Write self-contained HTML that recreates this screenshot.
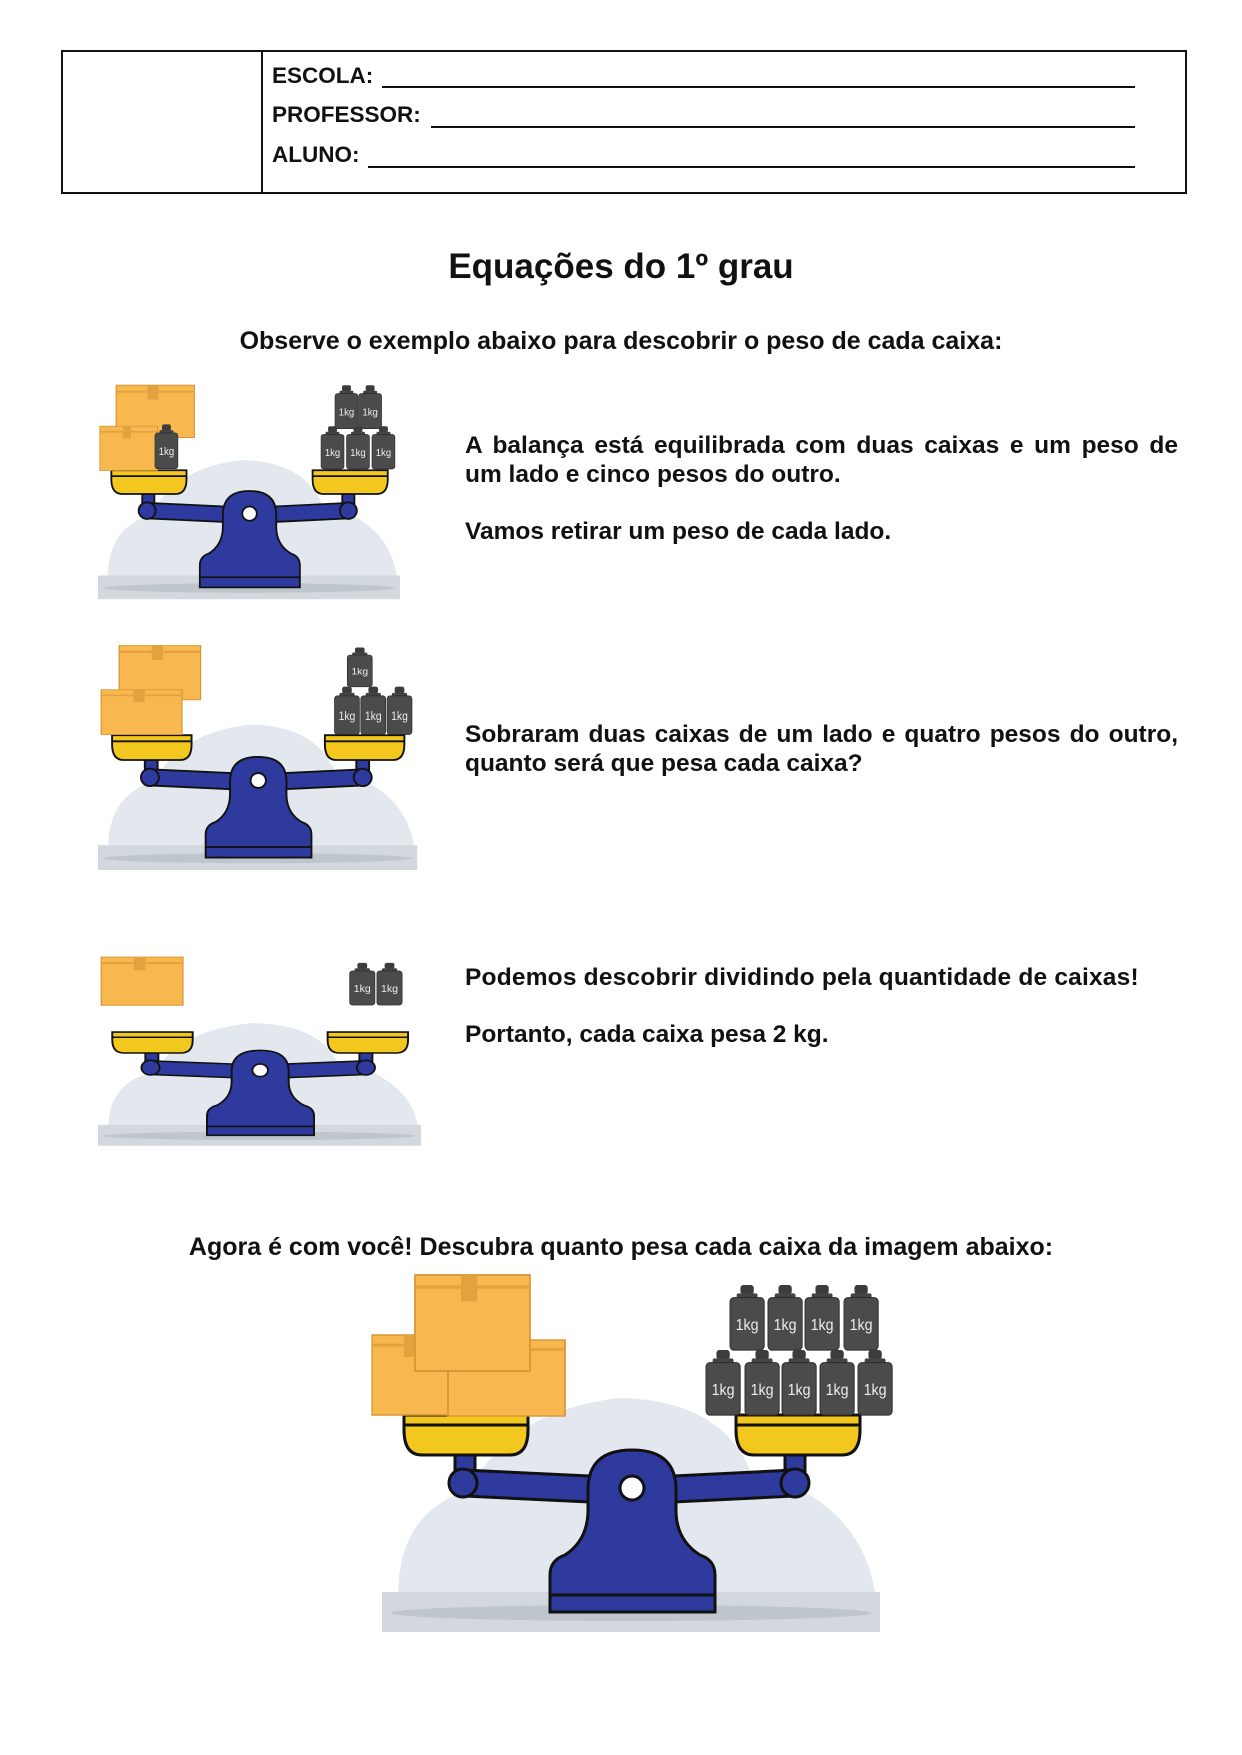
<!DOCTYPE html>
<html><head><meta charset="utf-8"><style>
body{margin:0;background:#fff;width:1242px;height:1755px;position:relative;overflow:hidden;font-family:"Liberation Sans",Arial,sans-serif;color:#111}
.abs{position:absolute}
.lbl{position:absolute;left:272px;font-size:22.5px;font-weight:bold;white-space:nowrap}
.line{position:absolute;height:2px;background:#111}
.t{position:absolute;font-size:24.5px;font-weight:bold;line-height:29px}
svg{position:absolute}
</style></head><body>
<div class="abs" style="left:61px;top:50px;width:1122px;height:140px;border:2px solid #111"></div>
<div class="abs" style="left:261px;top:50px;width:2px;height:144px;background:#111"></div>
<div class="lbl" style="top:63px">ESCOLA:</div><div class="line" style="left:382px;width:753px;top:86px"></div>
<div class="lbl" style="top:102px">PROFESSOR:</div><div class="line" style="left:431px;width:704px;top:126px"></div>
<div class="lbl" style="top:142px">ALUNO:</div><div class="line" style="left:368px;width:767px;top:166px"></div>

<div class="abs" style="left:0;width:1242px;top:247px;text-align:center;font-size:35px;font-weight:bold">Equações do 1º grau</div>
<div class="abs" style="left:0;width:1242px;top:327px;text-align:center;font-size:25px;font-weight:bold">Observe o exemplo abaixo para descobrir o peso de cada caixa:</div>

<div class="t" style="left:465px;top:431px;width:713px;text-align:justify;text-align-last:left">A balança está equilibrada com duas caixas e um peso de um lado e cinco pesos do outro.</div>
<div class="t" style="left:465px;top:517px">Vamos retirar um peso de cada lado.</div>
<div class="t" style="left:465px;top:720px;width:713px;text-align:justify;text-align-last:left">Sobraram duas caixas de um lado e quatro pesos do outro, quanto será que pesa cada caixa?</div>
<div class="t" style="left:465px;top:963px;letter-spacing:0.2px">Podemos descobrir dividindo pela quantidade de caixas!</div>
<div class="t" style="left:465px;top:1020px">Portanto, cada caixa pesa 2 kg.</div>
<div class="abs" style="left:0;width:1242px;top:1233px;text-align:center;font-size:25px;font-weight:bold">Agora é com você! Descubra quanto pesa cada caixa da imagem abaixo:</div>

<svg width="0" height="0" style="position:absolute">
<defs>
<g id="base">
<path d="M38 322 Q40 240 110 220 Q150 140 260 128 Q360 130 390 200 Q500 230 515 322 Z" fill="#e3e8ef"/>
<rect x="22" y="322" width="498" height="40" fill="#d3d8de"/>
<ellipse cx="271" cy="343" rx="240" ry="8" fill="#bfc5cd"/>
<path d="M95 185 h20 v22 h-20z M425 185 h20 v22 h-20z" fill="#2e3a9e" stroke="#111" stroke-width="3"/>
<path d="M103 200 L272 208 L435 200 L435 226 L272 234 L103 226 Z" fill="#2e3a9e" stroke="#111" stroke-width="3"/>
<circle cx="103" cy="213" r="14" fill="#2e3a9e" stroke="#111" stroke-width="3"/>
<circle cx="435" cy="213" r="14" fill="#2e3a9e" stroke="#111" stroke-width="3"/>
<path d="M190 342 L190 305 Q190 290 205 285 Q228 270 228 240 L228 220 Q228 180 272 180 Q316 180 316 220 L316 240 Q316 270 340 285 Q355 290 355 305 L355 342 Z" fill="#2e3a9e" stroke="#111" stroke-width="3"/>
<line x1="190" y1="325" x2="355" y2="325" stroke="#111" stroke-width="3"/>
<circle cx="272" cy="218" r="12" fill="#fff" stroke="#111" stroke-width="3"/>
<path d="M44 145 H168 V160 Q168 185 150 185 H62 Q44 185 44 160 Z" fill="#f2c81e" stroke="#111" stroke-width="3"/>
<line x1="44" y1="155" x2="168" y2="155" stroke="#111" stroke-width="3"/>
<path d="M376 145 H500 V160 Q500 185 482 185 H394 Q376 185 376 160 Z" fill="#f2c81e" stroke="#111" stroke-width="3"/>
<line x1="376" y1="155" x2="500" y2="155" stroke="#111" stroke-width="3"/>
</g>
<g id="w">
<rect x="11" y="0" width="14" height="9" rx="3" fill="#3c3c3c"/>
<rect x="7" y="8" width="22" height="5" rx="2" fill="#444"/>
<rect x="0" y="12" width="36" height="50" rx="4" fill="#4b4b4b" stroke="#2a2a2a" stroke-width="1"/>
<text x="18" y="43" font-size="15" fill="#eee" text-anchor="middle" font-family="Liberation Sans">1kg</text>
</g>
<g id="b">
<rect x="0" y="0" width="100" height="80" fill="#f7b850" stroke="#d99535" stroke-width="1.5"/>
<rect x="40" y="0" width="14" height="22" fill="#e4a23e"/>
<line x1="0" y1="10" x2="100" y2="10" stroke="#e4a23e" stroke-width="3"/>
</g>
</defs></svg>

<svg style="left:98px;top:384px" width="314" height="220" viewBox="22 0 518 370" preserveAspectRatio="none">
<use href="#base"/>
<use href="#b" transform="translate(52,2) scale(1.29,1.1)"/>
<use href="#b" transform="translate(25,71) scale(0.95,0.93)"/>
<use href="#w" transform="translate(116,68) scale(1.05,1.2)"/>
<use href="#w" transform="translate(413,2) scale(1.05,1.18)"/>
<use href="#w" transform="translate(452,2) scale(1.05,1.18)"/>
<use href="#w" transform="translate(390,71) scale(1.05,1.16)"/>
<use href="#w" transform="translate(432,71) scale(1.05,1.16)"/>
<use href="#w" transform="translate(474,71) scale(1.05,1.16)"/>
</svg>

<svg style="left:98px;top:645px" width="332" height="230" viewBox="22 0 518 370" preserveAspectRatio="none">
<use href="#base"/>
<use href="#b" transform="translate(55,0) scale(1.27,1.1)"/>
<use href="#b" transform="translate(27,72) scale(1.26,0.9)"/>
<use href="#w" transform="translate(411,4) scale(1.08,1.02)"/>
<use href="#w" transform="translate(391,67) scale(1.08,1.24)"/>
<use href="#w" transform="translate(432,67) scale(1.08,1.24)"/>
<use href="#w" transform="translate(473,67) scale(1.08,1.24)"/>
</svg>

<svg style="left:98px;top:956px" width="336" height="194" viewBox="22 0 518 370" preserveAspectRatio="none">
<use href="#base"/>
<use href="#b" transform="translate(27,2) scale(1.26,1.15)"/>
<use href="#w" transform="translate(410,13) scale(1.08,1.3)"/>
<use href="#w" transform="translate(452,13) scale(1.08,1.3)"/>
</svg>

<svg style="left:360px;top:1270px" width="540" height="370" viewBox="0 0 540 370">
<use href="#base"/>
<use href="#b" transform="translate(12,65) scale(0.8,1)"/>
<use href="#b" transform="translate(88,70) scale(1.17,0.95)"/>
<use href="#b" transform="translate(55,5) scale(1.15,1.2)"/>
<use href="#w" transform="translate(370,15) scale(0.95,1.05)"/>
<use href="#w" transform="translate(408,15) scale(0.95,1.05)"/>
<use href="#w" transform="translate(445,15) scale(0.95,1.05)"/>
<use href="#w" transform="translate(484,15) scale(0.95,1.05)"/>
<use href="#w" transform="translate(346,80) scale(0.95,1.05)"/>
<use href="#w" transform="translate(385,80) scale(0.95,1.05)"/>
<use href="#w" transform="translate(422,80) scale(0.95,1.05)"/>
<use href="#w" transform="translate(460,80) scale(0.95,1.05)"/>
<use href="#w" transform="translate(498,80) scale(0.95,1.05)"/>
</svg>
</body></html>
